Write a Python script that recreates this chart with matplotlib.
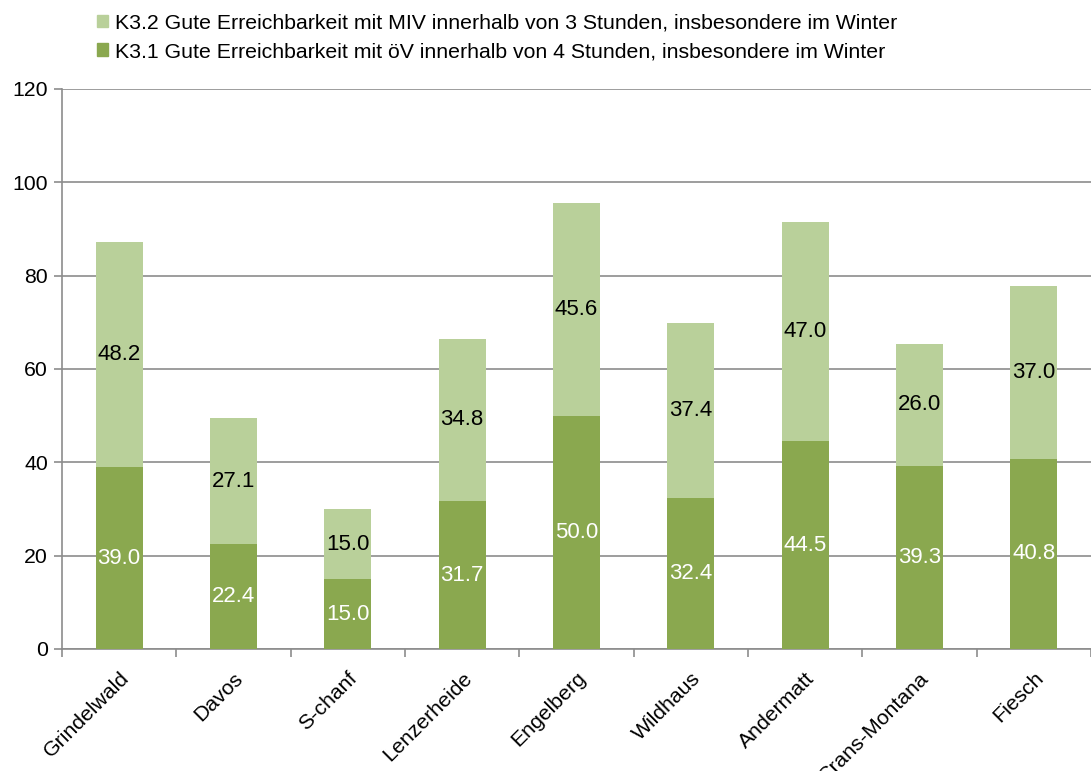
import matplotlib.pyplot as plt
import numpy as np
from matplotlib.patches import Patch

plt.rcParams['font.family'] = ['Liberation Sans', 'DejaVu Sans']

orte = ['Grindelwald', 'Davos', 'S-chanf', 'Lenzerheide', 'Engelberg',
        'Wildhaus', 'Andermatt', 'Crans-Montana', 'Fiesch']
k31 = [39.0, 22.4, 15.0, 31.7, 50.0, 32.4, 44.5, 39.3, 40.8]
k32 = [48.2, 27.1, 15.0, 34.8, 45.6, 37.4, 47.0, 26.0, 37.0]
lab_k31 = 'K3.1 Gute Erreichbarkeit mit öV innerhalb von 4 Stunden, insbesondere im Winter'
lab_k32 = 'K3.2 Gute Erreichbarkeit mit MIV innerhalb von 3 Stunden, insbesondere im Winter'

c_dark = '#8aa84f'
c_light = '#b9d09a'
grey = '#8c8c8c'
fs = 15.3

fig = plt.figure(figsize=(10.91, 7.71), dpi=100)
ax = fig.add_axes([62 / 1091, 1 - 649 / 771, 1 - 62 / 1091, 560 / 771])

x = np.arange(len(orte))
ax.bar(x, k31, width=0.41, color=c_dark, zorder=3)
ax.bar(x, k32, width=0.41, bottom=k31, color=c_light, zorder=3)

for i in range(len(orte)):
    ax.text(x[i], k31[i] / 2, f'{k31[i]:.1f}', ha='center', va='center',
            color='white', fontsize=16, zorder=4)
    ax.text(x[i], k31[i] + k32[i] / 2, f'{k32[i]:.1f}', ha='center', va='center',
            color='black', fontsize=16, zorder=4)

ax.set_xlim(-0.5, len(orte) - 0.5)
ax.set_ylim(0, 120)
ax.set_yticks(range(0, 121, 20))
ax.yaxis.grid(True, color=grey, linewidth=1.2, zorder=0)
ax.set_xticks(x)
ax.set_xticklabels(orte, rotation=45, ha='right', rotation_mode='anchor', fontsize=fs)
ax.set_xticks(np.arange(-0.5, len(orte), 1), minor=True)
ax.tick_params(axis='x', which='major', length=0, pad=14)
ax.tick_params(axis='x', which='minor', length=6, color=grey, width=1.2)
ax.tick_params(axis='y', length=6, color=grey, width=1.2, labelsize=fs, pad=4)

for s in ['top', 'right']:
    ax.spines[s].set_visible(False)
for s in ['left', 'bottom']:
    ax.spines[s].set_color(grey)
    ax.spines[s].set_linewidth(1.2)

handles = [Patch(color=c_light, label=lab_k32), Patch(color=c_dark, label=lab_k31)]
fig.legend(handles=handles, loc='upper left', bbox_to_anchor=(88 / 1091, 1 - 5 / 771),
           frameon=False, fontsize=fs, handlelength=0.55, handleheight=0.55,
           handletextpad=0.3, labelspacing=0.45, borderaxespad=0)

fig.savefig('out.png', dpi=100)
